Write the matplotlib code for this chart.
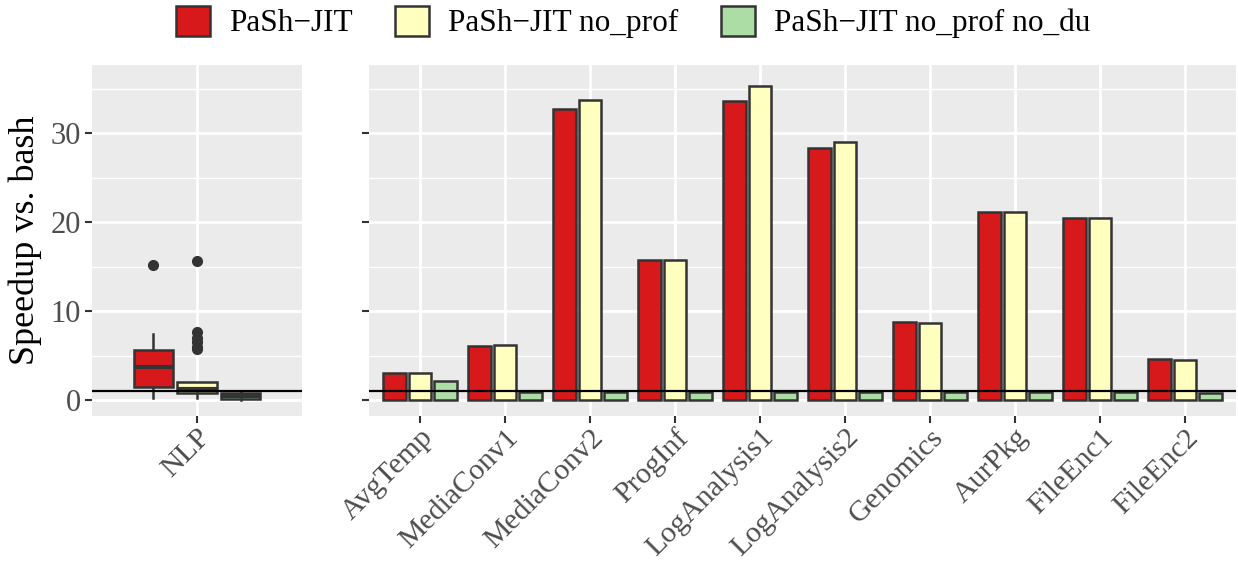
import matplotlib
matplotlib.use("Agg")
import matplotlib.pyplot as plt
from matplotlib.patches import Patch
import numpy as np

plt.rcParams['font.family'] = ['Liberation Serif', 'DejaVu Serif']

series = ["PaSh\u2212JIT", "PaSh\u2212JIT no_prof", "PaSh\u2212JIT no_prof no_du"]
colors = ["#D7191C", "#FFFFBF", "#ABDDA4"]

benchmarks = ["AvgTemp", "MediaConv1", "MediaConv2", "ProgInf", "LogAnalysis1",
              "LogAnalysis2", "Genomics", "AurPkg", "FileEnc1", "FileEnc2"]
jit = [3.0, 6.1, 32.7, 15.7, 33.7, 28.4, 8.8, 21.2, 20.5, 4.6]
no_prof = [3.0, 6.2, 33.8, 15.7, 35.3, 29.0, 8.7, 21.2, 20.5, 4.5]
no_prof_no_du = [2.1, 0.85, 0.85, 0.85, 0.85, 0.85, 0.85, 0.85, 0.85, 0.8]

# NLP boxplot summary stats per series
nlp_whislo = [0.2, 0.2, 0.05]
nlp_q1 = [1.5, 0.8, 0.1]
nlp_med = [3.7, 1.2, 0.45]
nlp_q3 = [5.6, 2.0, 0.75]
nlp_whishi = [7.4, 2.0, 0.9]
nlp_fliers = [[15.2], [15.6, 7.6, 7.0, 6.5, 6.0, 5.7], []]

yticks = [0, 10, 20, 30]
ref_line = 1.0

W, H = 1238, 565
fig = plt.figure(figsize=(W / 100, H / 100), dpi=100)

bottom_px, top_px = 416, 65
def ax_rect(x0, x1):
    return [x0 / W, (H - bottom_px) / H, (x1 - x0) / W, (bottom_px - top_px) / H]

ax1 = fig.add_axes(ax_rect(92, 302))
ax2 = fig.add_axes(ax_rect(369, 1236))

edge = "#333333"
ylim = (-1.8, 37.7)

for ax in (ax1, ax2):
    ax.set_facecolor("#EBEBEB")
    for s in ax.spines.values():
        s.set_visible(False)
    ax.set_ylim(*ylim)
    ax.set_yticks(yticks)
    ax.set_yticks([5, 15, 25, 35], minor=True)
    ax.grid(which="major", color="white", linewidth=2.0)
    ax.grid(which="minor", axis="y", color="white", linewidth=1.0)
    ax.set_axisbelow(True)
    ax.tick_params(axis="y", which="major", length=5, width=1.5, color=edge,
                   labelcolor="#4D4D4D", labelsize=22, pad=3)
    ax.tick_params(axis="x", which="major", length=5, width=1.5, color=edge,
                   labelcolor="#4D4D4D", labelsize=21.5, pad=1)
    ax.tick_params(axis="both", which="minor", length=0)
    ax.axhline(ref_line, color="black", linewidth=1.6, zorder=5)

# Left panel: boxplots
ax1.set_xlim(0.4, 1.6)
stats = []
for i in range(3):
    stats.append(dict(whislo=nlp_whislo[i], q1=nlp_q1[i], med=nlp_med[i],
                      q3=nlp_q3[i], whishi=nlp_whishi[i], fliers=nlp_fliers[i]))
positions = [1 - 0.25, 1.0, 1 + 0.25]
bp = ax1.bxp(stats, positions=positions, widths=0.225, patch_artist=True,
             showcaps=False, manage_ticks=False,
             boxprops=dict(edgecolor=edge, linewidth=1.8),
             medianprops=dict(color=edge, linewidth=3.0),
             whiskerprops=dict(color=edge, linewidth=1.8),
             flierprops=dict(marker="o", markerfacecolor=edge, markeredgecolor=edge,
                             markersize=7))
for patch, c in zip(bp["boxes"], colors):
    patch.set_facecolor(c)
for art in bp["boxes"] + bp["medians"] + bp["whiskers"] + bp["fliers"]:
    art.set_zorder(3)
ax1.set_xticks([1.0])
ax1.set_xticklabels(["NLP"], rotation=45, ha="right", rotation_mode="anchor")
ax1.set_ylabel("Speedup vs. bash", fontsize=26, color="black", labelpad=6)

# Right panel: bars
x = np.arange(1, len(benchmarks) + 1)
ax2.set_xlim(0.4, len(benchmarks) + 0.6)
for k, vals in enumerate([jit, no_prof, no_prof_no_du]):
    ax2.bar(x + (k - 1) * 0.3, vals, width=0.267, color=colors[k],
            edgecolor=edge, linewidth=1.8, zorder=3)
ax2.set_xticks(x)
ax2.set_xticklabels(benchmarks, rotation=45, ha="right", rotation_mode="anchor")
ax2.set_yticklabels([])

handles = [Patch(facecolor=c, edgecolor=edge, linewidth=1.8) for c in colors]
fig.legend(handles, series, loc="center", bbox_to_anchor=(633 / W, 1 - 22 / H),
           ncol=3, frameon=False, fontsize=22.5, handlelength=1.1, handleheight=1.1,
           handletextpad=0.6, columnspacing=1.35, borderaxespad=0)

fig.savefig("out.png", dpi=100)
